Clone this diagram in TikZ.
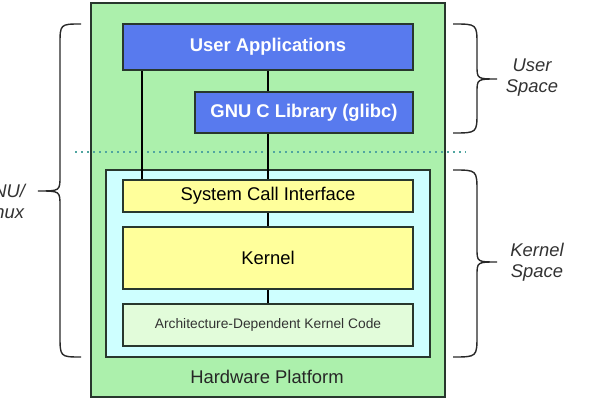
\documentclass[tikz,border=0pt]{standalone}
\usepackage{fontspec}
\setmainfont{Liberation Sans}
\definecolor{hwgreen}{RGB}{172,240,172}
\definecolor{kcyan}{RGB}{206,255,255}
\definecolor{ublue}{RGB}{88,122,238}
\definecolor{kyellow}{RGB}{255,255,155}
\definecolor{archgreen}{RGB}{226,252,218}
\definecolor{edge}{RGB}{40,55,45}
\definecolor{sep}{RGB}{80,165,160}
\definecolor{brc}{RGB}{40,40,40}
\tikzset{
  box/.style={draw=edge, line width=1pt, minimum width=145pt, inner sep=0pt},
  ubox/.style={box, fill=ublue, text=white, font=\fontsize{9.2}{11}\selectfont\bfseries},
  kbox/.style={box, fill=kyellow, font=\fontsize{9.2}{11}\selectfont},
  conn/.style={line width=1pt, black},
  brace/.style={draw=brc, line width=0.7pt},
  side/.style={font=\fontsize{9.2}{10.5}\selectfont\itshape, align=center, text=black!80}
}
\begin{document}
\begin{tikzpicture}[x=0.5pt, y=-0.5pt]
\useasboundingbox (0,0) rectangle (600,400);
\fill[white] (0,0) rectangle (600,400);
% hardware platform
\node[draw=edge, line width=1pt, fill=hwgreen, minimum width=177pt, minimum height=197pt, inner sep=0pt] (hw) at (268,200) {};
\node[font=\fontsize{9.2}{11}\selectfont, text=black!85] (hwl) at (267,377) {Hardware Platform};
% kernel space container
\node[draw=edge, line width=1pt, fill=kcyan, minimum width=162pt, minimum height=93.5pt, inner sep=0pt] (ks) at (268,263.5) {};
% separator
\coordinate (sepl) at (75,152);
\coordinate (sepr) at (466,152);
\draw[sep, line width=1pt, dotted] (sepl) -- (sepr);
% boxes
\node[ubox, minimum height=23pt] (ua) at (268,47) {User Applications};
\node[ubox, minimum width=109pt, minimum height=20.5pt] (glibc) at (304,112.5) {GNU C Library (glibc)};
\node[kbox, minimum height=16pt] (sci) at (268,196) {System Call Interface};
\node[kbox, minimum height=31pt] (kern) at (268,258) {Kernel};
\node[box, fill=archgreen, minimum height=21pt, font=\fontsize{6.9}{8}\selectfont, text=black!80] (arch) at (268,325) {Architecture-Dependent Kernel Code};
% connectors
\draw[conn] ([xshift=10pt]ua.south west) -- ([xshift=10pt]sci.north west);
\draw[conn] (ua.south) -- (ua.south |- glibc.north);
\draw[conn] (glibc.south -| sci.north) -- (sci.north);
\draw[conn] (sci.south) -- (kern.north);
\draw[conn] (kern.south) -- (arch.north);
% left brace
\draw[brace] (81,24) .. controls (60,24) .. (60,45) -- (60,176) .. controls (60,191) .. (38,191) .. controls (60,191) .. (60,206) -- (60,335) .. controls (60,357) .. (81,357);
\node[side] (gnu) at (2,201) {GNU/\\Linux};
% right braces
\draw[brace] (453,24) .. controls (477,24) .. (477,45) -- (477,65) .. controls (477,79) .. (497,79) .. controls (477,79) .. (477,93) -- (477,112) .. controls (477,133) .. (453,133);
\node[side] (us) at (532,78) {User\\Space};
\draw[brace] (453,170) .. controls (477,170) .. (477,192) -- (477,248) .. controls (477,262) .. (497,262) .. controls (477,262) .. (477,276) -- (477,335) .. controls (477,357) .. (453,357);
\node[side] (ksp) at (537,262) {Kernel\\Space};
\end{tikzpicture}
\end{document}
